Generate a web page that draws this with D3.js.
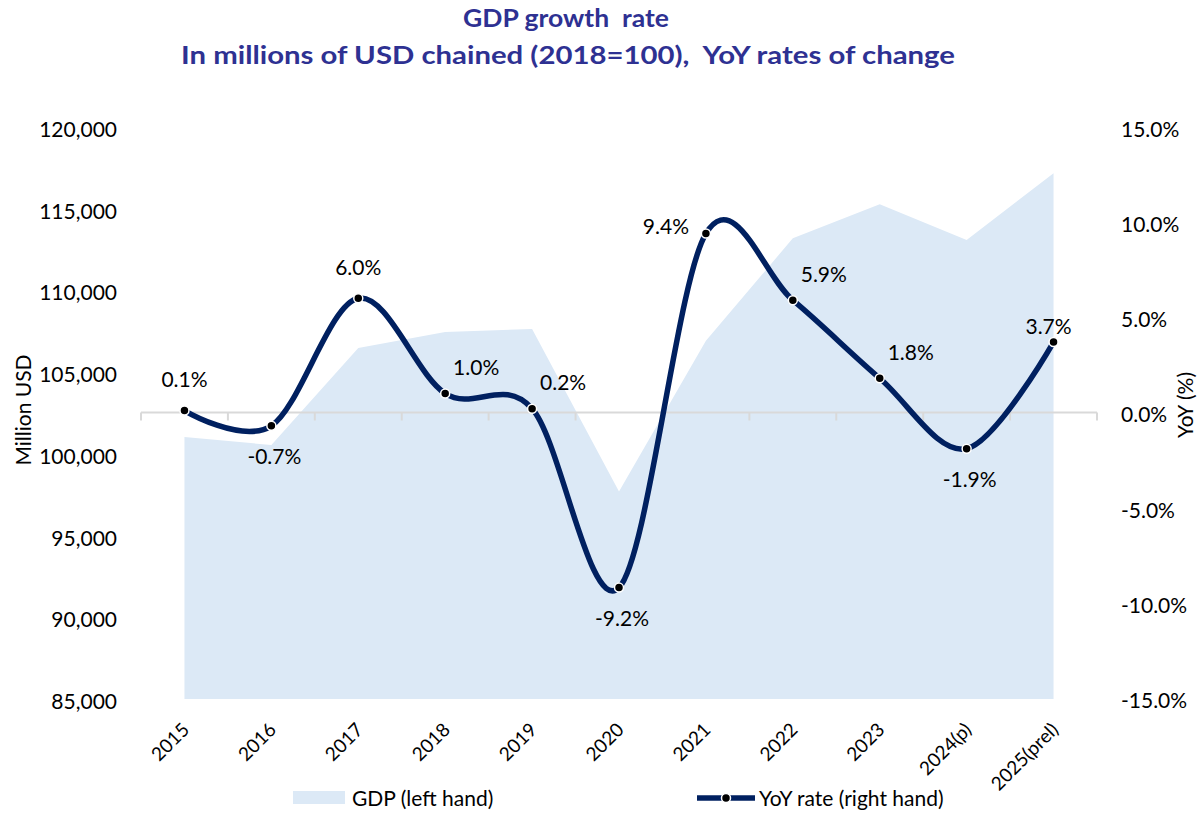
<!DOCTYPE html>
<html>
<head>
<meta charset="utf-8">
<script src="https://cdn.jsdelivr.net/npm/d3@7/dist/d3.min.js"></script>
<style>
  body { margin: 0; background: #fff; }
  svg { display: block; font-family: Lato, "Open Sans", sans-serif; }
  .title text { white-space: pre; }
</style>
</head>
<body>
<svg id="chart" width="1202" height="813"></svg>
<script>
// chart data
var years = ['2015', '2016', '2017', '2018', '2019', '2020', '2021', '2022', '2023', '2024(p)', '2025(prel)'];
var gdp = [101030, 100540, 106480, 107460, 107640, 97690, 106920, 113190, 115270, 113090, 117170];
var yoy = [0.1, -0.7, 6.0, 1.0, 0.2, -9.2, 9.4, 5.9, 1.8, -1.9, 3.7];
var leftTicks = [85000, 90000, 95000, 100000, 105000, 110000, 115000, 120000];
var rightTicks = [-15, -10, -5, 0, 5, 10, 15];

// where each data label sits relative to its point
var labelPlace = ['above', 'below', 'above', 'upright', 'upright', 'below', 'left', 'upright', 'upright', 'below', 'aboveleft'];

var navy = '#002060';
var areaFill = '#dce9f6';
var titleColor = '#2e3192';

var svg = d3.select('#chart');

var x = d3.scaleBand().domain(years).range([141, 1097]);
var cx = function (d) { return x(d) + x.bandwidth() / 2; };
var yL = d3.scaleLinear().domain([85000, 120000]).range([699, 127]);
var yR = d3.scaleLinear().domain([-15, 15]).range([698, 127]);

// title
var title = svg.append('g')
    .attr('class', 'title')
    .attr('fill', titleColor)
    .attr('font-weight', 'bold')
    .attr('text-anchor', 'middle');
title.append('text')
    .attr('x', 566).attr('y', 27)
    .attr('font-size', 25)
    .attr('textLength', 206).attr('lengthAdjust', 'spacingAndGlyphs')
    .text('GDP growth  rate');
title.append('text')
    .attr('x', 568).attr('y', 64)
    .attr('font-size', 25)
    .attr('textLength', 774).attr('lengthAdjust', 'spacingAndGlyphs')
    .text('In millions of USD chained (2018=100),  YoY rates of change');

/* GDP area (left axis) */
var area = d3.area()
    .x(function (d, i) { return cx(years[i]); })
    .y0(yL(85000))
    .y1(function (d) { return yL(d); });

svg.append('path')
    .datum(gdp)
    .attr('d', area)
    .attr('fill', areaFill);

// zero line of the right axis with category ticks
var axisY = yR(0);
svg.append('line')
    .attr('x1', 141).attr('x2', 1097)
    .attr('y1', axisY).attr('y2', axisY)
    .attr('stroke', '#d9d9d9').attr('stroke-width', 2);
svg.selectAll('.cattick')
    .data(d3.range(years.length + 1))
    .enter().append('line')
    .attr('class', 'cattick')
    .attr('x1', function (i) { return 141 + i * x.bandwidth(); })
    .attr('x2', function (i) { return 141 + i * x.bandwidth(); })
    .attr('y1', axisY).attr('y2', axisY + 8)
    .attr('stroke', '#d9d9d9').attr('stroke-width', 2);

// left axis
var leftAxis = svg.append('g')
    .attr('transform', 'translate(141,0)')
    .call(d3.axisLeft(yL).tickValues(leftTicks).tickSize(0).tickPadding(24).tickFormat(d3.format(',')));
leftAxis.select('.domain').remove();
leftAxis.selectAll('text')
    .attr('font-family', 'Lato, sans-serif')
    .attr('font-size', 21)
    .attr('fill', '#000')
    .attr('dy', '0.45em');

// right axis
var rightAxis = svg.append('g')
    .attr('transform', 'translate(1097,0)')
    .call(d3.axisRight(yR).tickValues(rightTicks).tickSize(0).tickPadding(24)
      .tickFormat(function (d) { return d.toFixed(1) + '%'; }));
rightAxis.select('.domain').remove();
rightAxis.selectAll('text')
    .attr('font-family', 'Lato, sans-serif')
    .attr('font-size', 21)
    .attr('fill', '#000')
    .attr('dy', '0.45em');

// category labels, rotated
svg.selectAll('.xlab')
    .data(years)
    .enter().append('text')
    .attr('class', 'xlab')
    .attr('transform', function (d) { return 'translate(' + (cx(d) + 6) + ',731) rotate(-45)'; })
    .attr('text-anchor', 'end')
    .attr('font-size', 19)
    .attr('fill', '#000')
    .text(function (d) { return d; });

// axis titles
svg.append('text')
    .attr('transform', 'translate(31,410) rotate(-90)')
    .attr('text-anchor', 'middle')
    .attr('font-size', 21)
    .attr('fill', '#000')
    .text('Million USD');
svg.append('text')
    .attr('transform', 'translate(1193,405) rotate(-90)')
    .attr('text-anchor', 'middle')
    .attr('font-size', 21)
    .attr('fill', '#000')
    .text('YoY (%)');

/* YoY line (right axis) */
var line = d3.line()
    .x(function (d, i) { return cx(years[i]); })
    .y(function (d) { return yR(d); })
    .curve(d3.curveCardinal.tension(0));

svg.append('path')
    .datum(yoy)
    .attr('d', line)
    .attr('fill', 'none')
    .attr('stroke', navy)
    .attr('stroke-width', 5.5)
    .attr('stroke-linejoin', 'round');

svg.selectAll('.dot')
    .data(yoy)
    .enter().append('circle')
    .attr('class', 'dot')
    .attr('cx', function (d, i) { return cx(years[i]); })
    .attr('cy', function (d) { return yR(d); })
    .attr('r', 4.5)
    .attr('fill', '#000')
    .attr('stroke', '#fff')
    .attr('stroke-width', 1.5);

// data labels
function labelOffset(place) {
  if (place === 'above') return [0, -31];
  if (place === 'below') return [3, 31];
  if (place === 'left') return [-40, -7];
  if (place === 'aboveleft') return [-5, -16];
  return [31, -26]; // upright
}

svg.selectAll('.vlab')
    .data(yoy)
    .enter().append('text')
    .attr('class', 'vlab')
    .attr('x', function (d, i) { return cx(years[i]) + labelOffset(labelPlace[i])[0]; })
    .attr('y', function (d, i) { return yR(d) + labelOffset(labelPlace[i])[1]; })
    .attr('dy', '0.36em')
    .attr('text-anchor', 'middle')
    .attr('font-size', 21)
    .attr('fill', '#000')
    .text(function (d) { return d.toFixed(1) + '%'; });

// legend
var legend = svg.append('g');
legend.append('rect')
    .attr('x', 293).attr('y', 791)
    .attr('width', 52).attr('height', 13)
    .attr('fill', areaFill);
legend.append('text')
    .attr('x', 352).attr('y', 806)
    .attr('font-size', 21)
    .attr('fill', '#000')
    .text('GDP (left hand)');
legend.append('line')
    .attr('x1', 697).attr('x2', 755)
    .attr('y1', 798).attr('y2', 798)
    .attr('stroke', navy).attr('stroke-width', 5.5);
legend.append('circle')
    .attr('cx', 726).attr('cy', 798).attr('r', 4.5)
    .attr('fill', '#000').attr('stroke', '#fff').attr('stroke-width', 1.5);
legend.append('text')
    .attr('x', 759).attr('y', 806)
    .attr('font-size', 21)
    .attr('fill', '#000')
    .text('YoY rate (right hand)');
</script>
</body>
</html>
